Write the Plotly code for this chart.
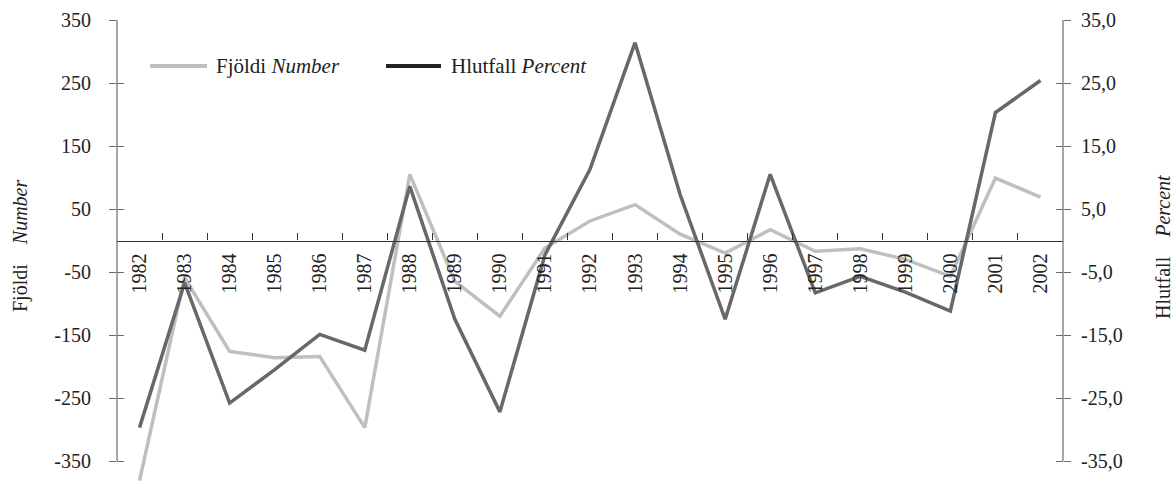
import plotly.graph_objects as go

years = [str(y) for y in range(1982, 2003)]
number = [-381, -59, -176, -186, -184, -297, 105, -65, -120, -12, 31, 57, 10, -20, 17, -17, -13, -30, -57, 99, 69]
percent = [-29.7, -6.7, -25.8, -20.5, -14.9, -17.4, 8.6, -12.5, -27.2, -2.3, 11.3, 31.4, 7.3, -12.5, 10.5, -8.3, -5.7, -8.2, -11.2, 20.3, 25.4]

left_ticks = [-350, -250, -150, -50, 50, 150, 250, 350]
right_ticks = [-35, -25, -15, -5, 5, 15, 25, 35]
right_ticktext = ["-35,0", "-25,0", "-15,0", "-5,0", "5,0", "15,0", "25,0", "35,0"]

W, H = 1173, 483
PL, PR, PT, PB = 117, 1063, 20, 483          # plot area in page pixels
ML, MT, MR, MB = PL, PT, W - PR, H - PB
PW, PH = PR - PL, PB - PT
ytop = 350
ybot = ytop - PH / 0.63
ratio = 10.0

FONT = "Liberation Serif, Times New Roman, serif"
LIGHT = "#bfbfbf"
DARK = "#686868"
AXC = "#6b6b6b"
TXT = "#222222"
FS = 20

fig = go.Figure()
fig.add_trace(go.Scatter(x=years, y=number, mode="lines", line=dict(color=LIGHT, width=3.5),
                         yaxis="y", showlegend=False))
fig.add_trace(go.Scatter(x=years, y=percent, mode="lines", line=dict(color=DARK, width=3.5),
                         yaxis="y2", showlegend=False))
# dummy traces so the cross-tick overlay axes are drawn
fig.add_trace(go.Scatter(x=[years[0]], y=[None], yaxis="y3", showlegend=False, hoverinfo="skip"))
fig.add_trace(go.Scatter(x=[years[0]], y=[None], yaxis="y4", showlegend=False, hoverinfo="skip"))

zero_pos = (0 - ybot) / (ytop - ybot)

fig.update_layout(
    width=W, height=H,
    margin=dict(l=ML, r=MR, t=MT, b=MB, pad=0),
    paper_bgcolor="white", plot_bgcolor="white",
    font=dict(family=FONT, size=FS, color=TXT),
    showlegend=False,
    xaxis=dict(type="category", range=[-0.5, len(years) - 0.5], anchor="free", position=zero_pos,
               showline=True, linecolor="#333333", linewidth=1.2,
               ticks="inside", tickson="boundaries", ticklen=7, tickcolor="#333333",
               tickangle=-90, ticklabelstandoff=4, showgrid=False, zeroline=False,
               tickfont=dict(family=FONT, size=FS, color=TXT)),
    yaxis=dict(range=[ybot, ytop], tickvals=left_ticks, ticktext=[str(v) for v in left_ticks],
               ticks="outside", ticklen=7, tickcolor=AXC, showline=False, showgrid=False,
               zeroline=False, ticklabelstandoff=14, tickfont=dict(family=FONT, size=FS, color=TXT)),
    yaxis2=dict(range=[ybot / ratio, ytop / ratio], overlaying="y", side="right",
                tickvals=right_ticks, ticktext=right_ticktext,
                ticks="outside", ticklen=7, tickcolor=AXC, showline=False, showgrid=False,
                zeroline=False, ticklabelstandoff=6, tickfont=dict(family=FONT, size=FS, color=TXT)),
    yaxis3=dict(range=[ybot, ytop], overlaying="y", side="left", tickvals=left_ticks,
                ticks="inside", ticklen=7, tickcolor=AXC, showticklabels=False,
                showline=False, showgrid=False, zeroline=False),
    yaxis4=dict(range=[ybot / ratio, ytop / ratio], overlaying="y", side="right", tickvals=right_ticks,
                ticks="inside", ticklen=7, tickcolor=AXC, showticklabels=False,
                showline=False, showgrid=False, zeroline=False),
)

# vertical axis lines spanning -350..350
fig.add_shape(type="line", xref="paper", yref="y", x0=0, x1=0, y0=-350, y1=350,
              line=dict(color=AXC, width=1.2))
fig.add_shape(type="line", xref="paper", yref="y", x0=1, x1=1, y0=-350, y1=350,
              line=dict(color=AXC, width=1.2))

def px_x(p):
    return (p - PL) / PW

def px_y(p):
    return (PB - p) / PH

# manual legend
leg_y = px_y(66)
fig.add_shape(type="line", xref="paper", yref="paper", x0=px_x(150), x1=px_x(207), y0=leg_y, y1=leg_y,
              line=dict(color=LIGHT, width=4))
fig.add_shape(type="line", xref="paper", yref="paper", x0=px_x(386), x1=px_x(441), y0=leg_y, y1=leg_y,
              line=dict(color="#222222", width=4))
fig.add_annotation(xref="paper", yref="paper", x=px_x(214), y=leg_y, xanchor="left", yanchor="middle",
                   text="Fjöldi <i>Number</i>", showarrow=False, font=dict(family=FONT, size=21, color=TXT))
fig.add_annotation(xref="paper", yref="paper", x=px_x(449), y=leg_y, xanchor="left", yanchor="middle",
                   text="Hlutfall <i>Percent</i>", showarrow=False, font=dict(family=FONT, size=21, color=TXT))

# axis titles
fig.add_annotation(xref="paper", yref="paper", x=px_x(20), y=px_y(246), xanchor="center", yanchor="middle",
                   text="Fjöldi\u00a0\u00a0\u00a0\u00a0<i>Number</i>", textangle=-90, showarrow=False,
                   font=dict(family=FONT, size=FS, color=TXT))
fig.add_annotation(xref="paper", yref="paper", x=px_x(1163), y=px_y(247), xanchor="center", yanchor="middle",
                   text="Hlutfall\u00a0\u00a0\u00a0\u00a0<i>Percent</i>", textangle=-90, showarrow=False,
                   font=dict(family=FONT, size=FS, color=TXT))

fig.write_html("out.html", config={"displayModeBar": False},
               post_script="document.body.style.margin='0';document.body.style.overflow='hidden';")
